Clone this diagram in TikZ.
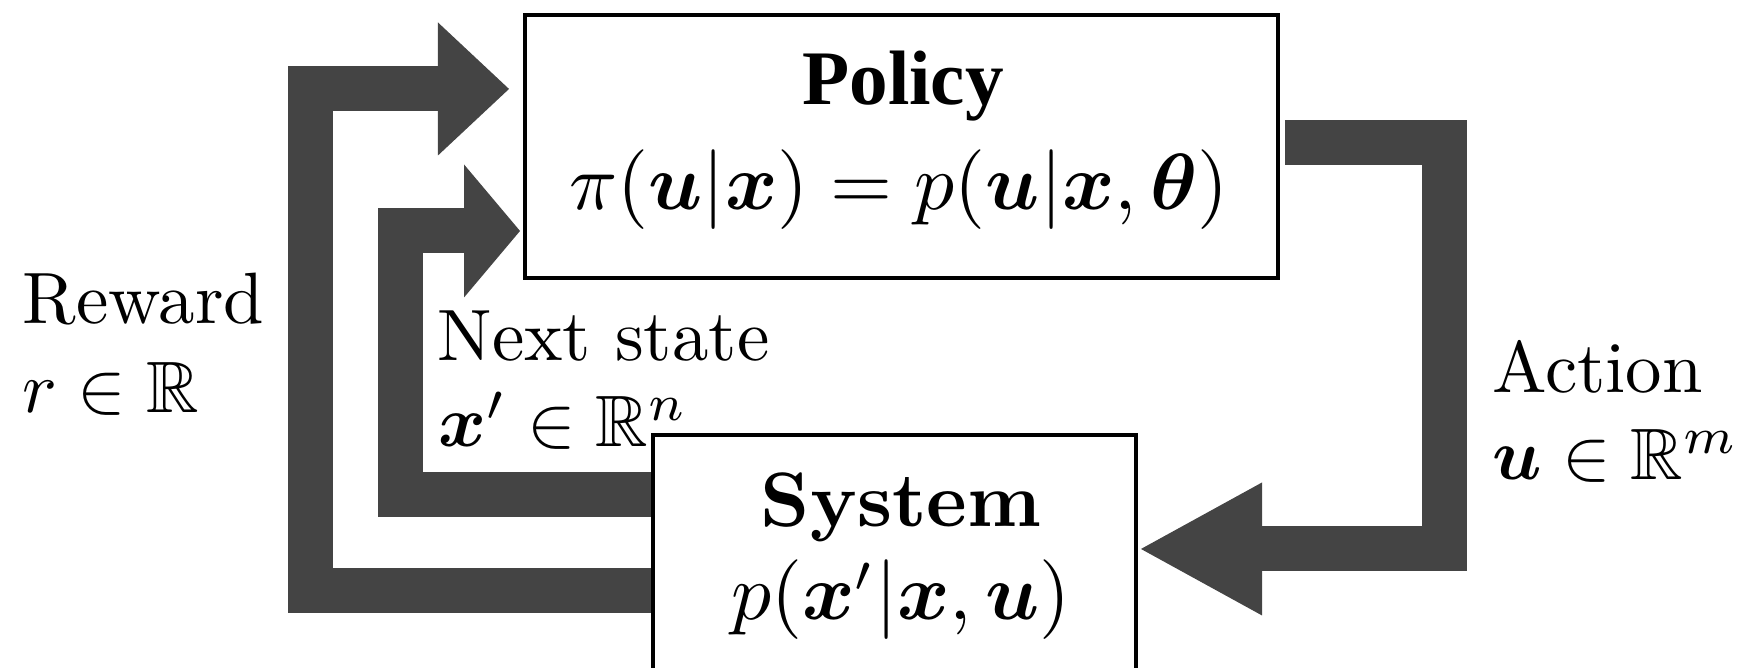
\documentclass[tikz,border=0pt]{standalone}
\usepackage{amsmath,amssymb,bm}
\usepackage{fontspec}
\newfontfamily\timesfont{Liberation Serif}
\usetikzlibrary{arrows.meta,calc,backgrounds}
\definecolor{arrowgray}{HTML}{444444}
\begin{document}
\begin{tikzpicture}[x=0.1374pt,y=-0.1374pt,
  box/.style={draw=black,line width=0.55pt,rectangle,inner sep=0pt},
  flow/.style={draw=arrowgray,line width=6.18pt,line join=miter,line cap=butt},
  lbl/.style={anchor=base west,inner sep=0pt},
  ttl/.style={anchor=base,inner sep=0pt}]
\useasboundingbox (0,0) rectangle (1738,668);
\clip (0,0) rectangle (1738,668);
% boxes
\node[box,minimum width=103.46pt,minimum height=36.14pt] (pol) at (901.5,146.5) {};
\node[box,minimum width=66.36pt,minimum height=36.14pt] (sys) at (894.5,566.5) {};
% box texts
\node[ttl,font=\timesfont\bfseries\fontsize{10.6}{12}\selectfont] (polT) at (903,105) {Policy};
\node[ttl,font=\fontsize{10.9}{13}\selectfont] (polF) at (899,210) {$\pi(\bm{u}|\bm{x}) = p(\bm{u}|\bm{x},\bm{\theta})$};
\node[ttl,font=\bfseries\fontsize{10.6}{12}\selectfont] (sysT) at (901,527) {System};
\node[ttl,font=\fontsize{10.7}{13}\selectfont] (sysF) at (901,620) {$p(\bm{x}'|\bm{x},\bm{u})$};
% labels
\node[lbl] (rw1) at (21,324) {Reward};
\node[lbl] (rw2) at (21,413) {$r\in\mathbb{R}$};
\node[lbl] (ns1) at (436,361) {Next state};
\node[lbl] (ns2) at (437,447) {$\bm{x}'\in\mathbb{R}^n$};
\node[lbl] (ac1) at (1491,393) {Action};
\node[lbl] (ac2) at (1491,480) {$\bm{u}\in\mathbb{R}^m$};
% connectors
\begin{scope}[on background layer]
\draw[flow,-{Triangle[width=18.27pt,length=9.76pt,line width=0pt]}]
  ($(sys.north west)+(0,158)$) -| ($(pol.north west)+(-213,76)$) -- ($(pol.north west)+(-14,76)$);
\draw[flow,-{Triangle[width=18.27pt,length=7.69pt,line width=0pt]}]
  ($(sys.north west)+(0,61.5)$) -| ($(pol.north west)+(-122.5,218)$) -- ($(pol.north west)+(-3,218)$);
\draw[flow,-{Triangle[width=18.27pt,length=16.63pt,line width=0pt]}]
  ($(pol.north east)+(5,130)$) -| ($(sys.north east)+(307,116)$) -- ($(sys.north east)+(3,116)$);
\end{scope}
\end{tikzpicture}
\end{document}
